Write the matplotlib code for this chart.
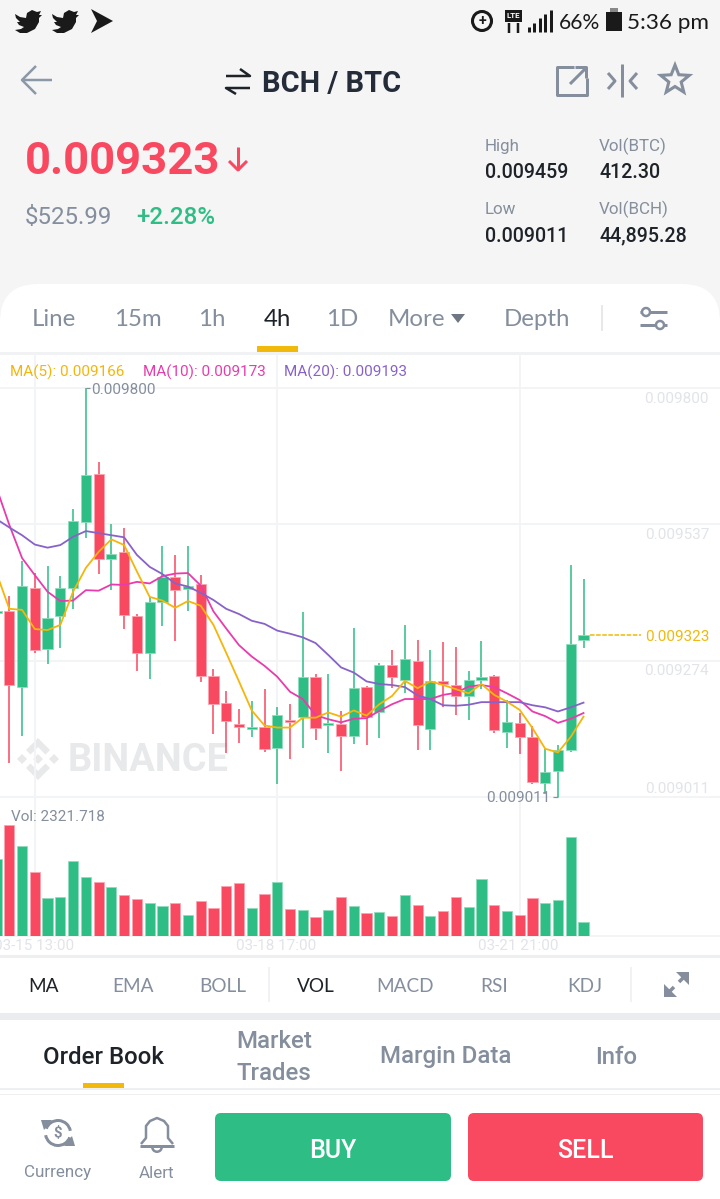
#!/usr/bin/env python3
# -*- coding: utf-8 -*-
import numpy as np
import matplotlib
matplotlib.use('Agg')
import matplotlib.pyplot as plt
from matplotlib.patches import FancyBboxPatch, Polygon, Circle, Rectangle, Wedge

W, H = 720, 1199

# prices are in units of 1e-6 BTC
body_top = [9370, 9370, 9418, 9415, 9357, 9414, 9543, 9632, 9634, 9480, 9484, 9360, 9387, 9435, 9436, 9419,
            9421, 9244, 9193, 9152, 9146, 9146, 9170, 9160, 9242, 9243, 9154, 9152, 9221, 9223, 9266, 9266,
            9278, 9273, 9235, 9235, 9227, 9236, 9243, 9244, 9155, 9153, 9127, 9059, 9101, 9307, 9323]
body_bottom = [9366, 9228, 9224, 9294, 9296, 9361, 9415, 9542, 9470, 9470, 9362, 9288, 9288, 9388, 9410, 9413,
               9244, 9191, 9157, 9146, 9143, 9104, 9105, 9156, 9165, 9144, 9149, 9129, 9128, 9166, 9175, 9242,
               9237, 9149, 9143, 9229, 9205, 9205, 9237, 9140, 9136, 9126, 9040, 9038, 9061, 9102, 9313]
highs = [9372, 9399, 9467, 9443, 9456, 9438, 9567, 9800, 9657, 9537, 9529, 9364, 9397, 9495, 9477, 9496,
         9440, 9257, 9215, 9181, 9196, 9219, 9184, 9190, 9368, 9248, 9248, 9176, 9337, 9225, 9269, 9295,
         9343, 9313, 9295, 9310, 9300, 9254, 9312, 9246, 9198, 9174, 9148, 9103, 9111, 9458, 9431]
lows = [9364, 9077, 9129, 9288, 9267, 9299, 9374, 9510, 9441, 9411, 9336, 9255, 9238, 9340, 9312, 9370,
        9232, 9132, 9096, 9116, 9127, 9098, 9036, 9085, 9106, 9121, 9096, 9061, 9113, 9112, 9124, 9221,
        9211, 9102, 9102, 9185, 9169, 9160, 9219, 9135, 9106, 9093, 9036, 9017, 9011, 9097, 9299]
rising = list('grgrggggrgrrggrgrrrrgrgrgrgrgrgrgrgrrggrgrrgggg')

ma5 = [9443, 9374, 9372, 9335, 9333, 9343, 9407, 9453, 9484, 9508, 9497, 9446, 9397, 9390, 9376, 9389,
       9380, 9343, 9289, 9234, 9178, 9149, 9145, 9145, 9164, 9164, 9174, 9166, 9178, 9168, 9190, 9206,
       9235, 9221, 9234, 9227, 9219, 9211, 9229, 9208, 9195, 9179, 9144, 9104, 9097, 9127, 9166]
ma10 = [9607, 9536, 9472, 9439, 9407, 9389, 9390, 9410, 9409, 9421, 9420, 9426, 9423, 9437, 9442, 9443,
        9419, 9369, 9336, 9304, 9282, 9264, 9243, 9214, 9200, 9169, 9161, 9155, 9162, 9163, 9177, 9190,
        9200, 9200, 9200, 9208, 9212, 9224, 9227, 9223, 9211, 9198, 9176, 9167, 9154, 9162, 9173]
ma20 = [9547, 9531, 9516, 9498, 9492, 9497, 9513, 9524, 9520, 9516, 9512, 9478, 9455, 9441, 9423, 9417,
        9405, 9391, 9374, 9364, 9351, 9345, 9332, 9326, 9319, 9308, 9285, 9261, 9251, 9234, 9229, 9227,
        9223, 9207, 9200, 9188, 9187, 9189, 9194, 9194, 9194, 9194, 9188, 9184, 9176, 9184, 9193]
volumes = [13090, 18870, 15300, 10830, 6410, 6580, 12700, 10030, 9180, 8330, 6970, 6340, 5660, 5050, 5560, 3520,
           5950, 4810, 8500, 8960, 4760, 7090, 9180, 4590, 4470, 3280, 4370, 6630, 5150, 3910, 4130, 3450,
           6920, 5320, 3350, 4300, 6680, 4880, 9740, 5220, 4250, 3520, 6510, 5660, 6070, 16880, 2322]

price_ticks = [9800, 9537, 9274, 9011]
price_labels = ['0.009800', '0.009537', '0.009274', '0.009011']
date_ticks = [2, 21, 40]
date_labels = ['03-15 13:00', '03-18 17:00', '03-21 21:00']
last_price = 9323

GREEN = '#2ebd85'
RED = '#f84960'
YELLOW = '#f0b90b'
PINK = '#e93cac'
PURPLE = '#8862c9'
GRAY = '#848e9c'
DARK = '#1e2329'
GRID = '#f3f4f6'
PALE = '#e1e4e8'

plt.rcParams['font.family'] = ['Roboto', 'DejaVu Sans']

fig = plt.figure(figsize=(W / 100, H / 100), dpi=100, facecolor='#f5f5f5')


def canvas(zorder):
    a = fig.add_axes([0, 0, 1, 1])
    a.set_xlim(0, W)
    a.set_ylim(H, 0)
    a.axis('off')
    a.patch.set_alpha(0)
    a.set_zorder(zorder)
    return a


bg = canvas(0)
over = canvas(5)


def label(x, y, s, size, color=GRAY, ha='center', weight='normal', family=None, zorder=6, on=None):
    # size is given in pixels
    return (on or bg).text(x, y + 3, s, fontsize=size * 0.72, color=color, ha=ha, va='center', weight=weight,
                           family=family, zorder=zorder)


def stroke(xs, ys, color=GRAY, lw=2.0, zorder=5, on=None):
    (on or bg).plot(xs, ys, color=color, lw=lw * 0.72, solid_capstyle='butt', zorder=zorder)


def box(x0, y0, x1, y1, color, zorder=1):
    bg.add_patch(Rectangle((x0, y0), x1 - x0, y1 - y0, fc=color, ec='none', zorder=zorder))


def rounded(x0, y0, x1, y1, r, color, zorder=1):
    bg.add_patch(FancyBboxPatch((x0 + r, y0 + r), x1 - x0 - 2 * r, y1 - y0 - 2 * r,
                                boxstyle='round,pad=%f,rounding_size=%f' % (r, r),
                                fc=color, ec='none', zorder=zorder))


def bird(x, y, s=1.0, color='#1a1a1a'):
    pts = [(0, 5), (5, 8), (11, 9), (12, 4), (17, 1), (22, 3), (26, 2), (24, 6), (27, 6), (24, 9), (24, 13),
           (20, 20), (12, 24), (5, 24), (0, 21), (6, 20), (9, 18), (4, 16), (2, 13), (5, 13), (1, 9)]
    bg.add_patch(Polygon([(x + a * s, y + b * s) for a, b in pts], fc=color, ec='none', zorder=6))


# card and bands
rounded(0, 284, W, 1330, 38, 'white')
box(0, 352, W, 355, '#f1f2f4', 2)
box(0, 955, W, 958, '#eeeff1', 2)
box(0, 1013, W, 1020, '#eaecef', 2)
box(0, 1088, W, 1090, '#eeeff1', 2)
box(0, 1094, W, 1095, '#eeeff1', 2)

# status bar
bird(15, 9)
bird(52, 9)
bg.add_patch(Polygon([(91, 9), (113, 21), (91, 33), (97, 21)], fc='#1a1a1a', ec='none', zorder=6))
bg.add_patch(Circle((482, 21), 9.5, fc='none', ec='#1a1a1a', lw=2.2, zorder=6))
label(482, 17.5, '+', 14, '#1a1a1a', weight='bold')
box(505, 10, 522, 22, '#1a1a1a', 6)
label(513.5, 13, 'LTE', 8, 'white', weight='bold', zorder=7)
stroke([509, 509], [23, 33], '#1a1a1a', 2.5, 6)
stroke([518, 518], [23, 33], '#1a1a1a', 2.5, 6)
for k, top in enumerate([27, 23, 18, 14, 10]):
    stroke([529 + k * 5.4, 529 + k * 5.4], [top, 32], '#1a1a1a', 3, 6)
label(579, 20, '66%', 21, '#1a1a1a', family='Lato')
box(606, 12, 622, 31, '#1a1a1a', 6)
box(610, 8, 618, 12, '#888888', 6)
label(668, 20, '5:36 pm', 22.5, '#1a1a1a', family='Lato')

# header
stroke([22, 52], [80, 80], '#8a98a8', 2.5)
stroke([36, 22, 36], [66, 80, 94], '#8a98a8', 2.5)
stroke([226, 250, 240], [76, 76, 69], DARK, 2.5)
stroke([250, 226, 236], [88, 88, 94], DARK, 2.5)
label(332, 81, 'BCH / BTC', 29, '#242c3a', weight='bold')
stroke([574, 557, 557, 587, 587], [67, 67, 95, 95, 78], GRAY, 3)
stroke([570, 586], [84, 68], GRAY, 3)
stroke([575, 586, 586], [67, 67, 78], GRAY, 3)
stroke([622, 622], [64, 97], GRAY, 3)
stroke([608, 615, 608], [73, 81, 89], GRAY, 3)
stroke([637, 630, 637], [73, 81, 89], GRAY, 3)
star = [(675 + (15 if k % 2 == 0 else 6.5) * np.sin(k * np.pi / 5),
         80 - (15 if k % 2 == 0 else 6.5) * np.cos(k * np.pi / 5)) for k in range(10)]
bg.add_patch(Polygon(star, fc='none', ec=GRAY, lw=2.2, zorder=5))

label(25, 159, '0.009323', 45.5, RED, ha='left', weight='bold')
stroke([238, 238], [147, 170], RED, 3)
stroke([229, 238, 247], [161, 170, 161], RED, 3)
label(25, 214, '$525.99', 24, GRAY, ha='left')
label(136, 214, '+2.28%', 24, GREEN, ha='left', weight='medium')
label(485, 143, 'High', 17, GRAY, ha='left')
label(485, 170, '0.009459', 19.6, DARK, ha='left', weight='medium')
label(599, 143, 'Vol(BTC)', 17, GRAY, ha='left')
label(599, 170, '412.30', 19.6, DARK, ha='left', weight='medium')
label(485, 206, 'Low', 17, GRAY, ha='left')
label(485, 233, '0.009011', 19.6, DARK, ha='left', weight='medium')
label(599, 206, 'Vol(BCH)', 17, GRAY, ha='left')
label(599, 233, '44,895.28', 19.6, DARK, ha='left', weight='medium')

# interval tabs
for x, s, c in [(54, 'Line', GRAY), (138, '15m', GRAY), (212, '1h', GRAY), (277, '4h', DARK),
                (342, '1D', GRAY), (417, 'More', GRAY), (537, 'Depth', GRAY)]:
    label(x, 317, s, 24, c, family='Lato')
bg.add_patch(Polygon([(451, 314), (465, 314), (458, 323)], fc='#6f7785', ec='none', zorder=5))
box(257, 346, 298, 352, YELLOW, 5)
stroke([602, 602], [305, 331], '#e6e8ea', 2)
for yy, cx in [(312, 646), (325, 660)]:
    stroke([640, 667], [yy, yy], GRAY, 3)
    bg.add_patch(Circle((cx, yy), 4, fc='white', ec=GRAY, lw=1.8, zorder=6))

# indicator strip
for x, s, c in [(44, 'MA', DARK), (133, 'EMA', GRAY), (223, 'BOLL', GRAY), (316, 'VOL', DARK),
                (405, 'MACD', GRAY), (494, 'RSI', GRAY), (585, 'KDJ', GRAY)]:
    label(x, 984, s, 19, c, family='Lato')
stroke([269, 269], [967, 1002], '#eeeff1', 1.5)
stroke([631, 631], [967, 1002], '#eeeff1', 1.5)
stroke([667, 674], [994, 987], GRAY, 3.5)
stroke([679, 686], [982, 975], GRAY, 3.5)
bg.add_patch(Polygon([(664, 997), (664, 984), (677, 997)], fc=GRAY, ec='none', zorder=5))
bg.add_patch(Polygon([(689, 972), (676, 972), (689, 985)], fc=GRAY, ec='none', zorder=5))

# lower tabs
label(103, 1054, 'Order Book', 24, DARK, weight='medium')
label(274, 1039, 'Market', 24, GRAY, weight='medium')
label(274, 1070, 'Trades', 24, GRAY, weight='medium')
label(446, 1054, 'Margin Data', 24, GRAY, weight='medium')
label(616, 1054, 'Info', 24, GRAY, weight='medium')
box(83, 1083, 124, 1088, YELLOW, 5)

# footer
bg.add_patch(Wedge((58, 1133), 14, 200, 350, width=3, fc=GRAY, ec='none', zorder=5))
bg.add_patch(Wedge((58, 1133), 14, 20, 170, width=3, fc=GRAY, ec='none', zorder=5))
bg.add_patch(Polygon([(41, 1120), (52, 1120), (44, 1130)], fc=GRAY, ec='none', zorder=5))
bg.add_patch(Polygon([(75, 1146), (64, 1146), (72, 1136)], fc=GRAY, ec='none', zorder=5))
label(58, 1130, '$', 15, GRAY, weight='bold')
label(58, 1170, 'Currency', 17, GRAY)
stroke([141, 146, 146, 150, 157, 164, 168, 168, 173],
       [1144, 1138, 1126, 1121, 1118, 1121, 1126, 1138, 1144], GRAY, 2.5)
stroke([140, 174], [1146, 1146], GRAY, 3)
bg.add_patch(Wedge((157, 1147), 6, 0, 180, width=2.5, fc=GRAY, ec='none', zorder=5))
label(157, 1170, 'Alert', 17, GRAY)
rounded(215, 1113, 451, 1181, 6, GREEN, 3)
rounded(468, 1113, 703, 1181, 6, RED, 3)
label(333, 1148, 'BUY', 25, 'white', weight='medium')
label(585, 1148, 'SELL', 25, 'white', weight='medium')

# price and volume panes
idx = np.arange(-1, 46)
XLIM = ((0 - 9.3) / 12.76, (W - 9.3) / 12.76)


def pane(y_top, y_bottom):
    a = fig.add_axes([0, 1 - y_bottom / H, 1, (y_bottom - y_top) / H])
    a.set_xlim(*XLIM)
    a.patch.set_alpha(0)
    a.axis('off')
    a.set_zorder(2)
    return a


ax = pane(388, 797)
ax.set_ylim(price_ticks[-1], price_ticks[0])
vol_ax = pane(800, 936)
vol_ax.set_ylim(0, 23120)

# vertical grid runs from the legend row to the date row
for d in date_ticks:
    ax.plot([d, d], [9011 - 268, 9800 + 64], color=GRID, lw=1.4, clip_on=False, zorder=1)
for p in price_ticks:
    ax.axhline(p, color=GRID, lw=1.4, clip_on=False, zorder=1)
vol_ax.axhline(0, color=GRID, lw=1.4, clip_on=False, zorder=1)

# watermark
cx, cy = 38, 759
WM = '#e8e9eb'
for sgn in (-1, 1):
    bg.add_patch(Polygon([(cx, cy + sgn * 21), (cx + 12, cy + sgn * 9), (cx + 7.5, cy + sgn * 4.5), (cx, cy + sgn * 12),
                          (cx - 7.5, cy + sgn * 4.5), (cx - 12, cy + sgn * 9)], fc=WM, ec='none', zorder=4))
    bx = cx + sgn * 16
    bg.add_patch(Polygon([(bx, cy - 5), (bx + 5, cy), (bx, cy + 5), (bx - 5, cy)], fc=WM, ec='none', zorder=4))
bg.add_patch(Polygon([(cx, cy - 5), (cx + 5, cy), (cx, cy + 5), (cx - 5, cy)], fc=WM, ec='none', zorder=4))
label(68, 757.5, 'BINANCE', 38, WM, ha='left', weight='bold', zorder=4)

colors = [GREEN if r == 'g' else RED for r in rising]
edges = ['#8fdcbc' if r == 'g' else '#fda4b0' for r in rising]
ax.vlines(idx, lows, highs, colors=colors, lw=1.1, zorder=3)
ax.bar(idx, np.array(body_top) - np.array(body_bottom), bottom=body_bottom, width=0.8, color=colors,
       edgecolor=edges, linewidth=0.6, zorder=4)
ax.plot(idx, ma5, color='#f5b50a', lw=1.3, zorder=6)
ax.plot(idx, ma10, color=PINK, lw=1.3, zorder=5)
ax.plot(idx, ma20, color=PURPLE, lw=1.3, zorder=5)
vol_ax.bar(idx, volumes, width=0.8, color=colors, edgecolor=edges, linewidth=0.6, zorder=3)

ax.plot([45.5, 49.5], [last_price, last_price], color=YELLOW, lw=1.1, ls=(0, (3, 1)), zorder=5)

# labels on the chart
for yy, s in zip([397, 533, 669, 787], price_labels):
    label(709, yy - 1, s, 15.2, PALE, ha='right', on=over)
label(709, 634, '0.009323', 15.2, YELLOW, ha='right', on=over)
label(91, 387, '0.009800', 15.2, GRAY, ha='left', on=over)
stroke([86, 90], [388, 388], GRAY, 1.2, on=over)
label(550, 795, '0.009011', 15.2, GRAY, ha='right', on=over)
stroke([553, 558], [797, 797], GRAY, 1.2, on=over)
label(10, 369, 'MA(5): 0.009166', 15.2, '#f5b50a', ha='left', on=over)
label(143, 369, 'MA(10): 0.009173', 15.2, PINK, ha='left', on=over)
label(284, 369, 'MA(20): 0.009193', 15.2, PURPLE, ha='left', on=over)
label(11, 814, 'Vol: 2321.718', 15.2, GRAY, ha='left', on=over)
for d, s in zip(date_ticks, date_labels):
    label(9.3 + d * 12.76 - 1, 943, s, 15.2, PALE, on=over)

fig.savefig('out.png', dpi=100, facecolor=fig.get_facecolor())
